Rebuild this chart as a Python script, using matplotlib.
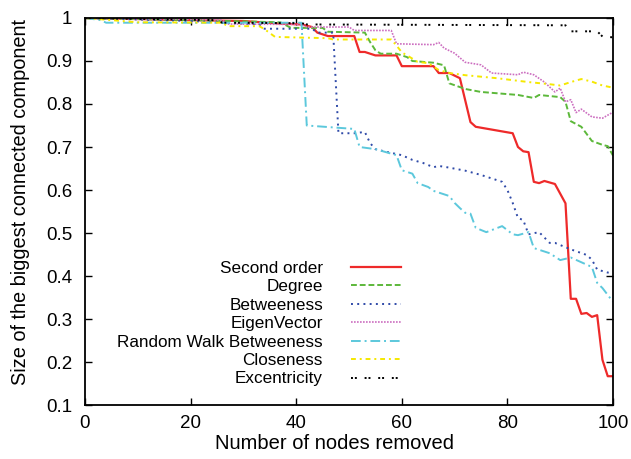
import matplotlib
matplotlib.use("Agg")
import matplotlib.pyplot as plt

plt.rcParams['font.family'] = ['Liberation Sans', 'DejaVu Sans']

# vertices (nodes removed, size of biggest component)
second_x = [0, 20, 30, 37, 41, 43, 44, 46, 51, 52, 53, 55, 59, 60, 66, 67, 69, 71, 73, 74,
            81, 82, 83, 84, 85, 86, 87, 89, 91, 92, 93, 94, 95, 96, 97, 98, 99, 100]
second_y = [1.0, 0.995, 0.993, 0.987, 0.985, 0.979, 0.966, 0.958, 0.958, 0.921, 0.921, 0.913,
            0.913, 0.888, 0.888, 0.872, 0.872, 0.860, 0.758, 0.747, 0.732, 0.700, 0.690, 0.688,
            0.619, 0.616, 0.621, 0.614, 0.569, 0.347, 0.347, 0.312, 0.314, 0.305, 0.309, 0.205,
            0.167, 0.167]

degree_x = [0, 20, 37, 39, 45, 46, 53, 54, 55, 56, 59, 61, 62, 66, 68, 69, 72, 75, 82, 85,
            86, 90, 91, 92, 94, 96, 98, 99, 100]
degree_y = [1.0, 0.995, 0.99, 0.977, 0.977, 0.968, 0.966, 0.944, 0.925, 0.917, 0.917, 0.909,
            0.900, 0.896, 0.890, 0.848, 0.835, 0.828, 0.821, 0.814, 0.821, 0.816, 0.805, 0.760,
            0.747, 0.714, 0.705, 0.702, 0.680]

betw_x = [0, 20, 33, 34, 43, 44, 47, 48, 51, 53, 54, 55, 57, 60, 62, 64, 66, 67, 69, 72, 75,
          79, 80, 81, 82, 83, 84, 86, 88, 89, 92, 95, 96, 97, 99, 100]
betw_y = [1.0, 0.993, 0.985, 0.975, 0.975, 0.966, 0.966, 0.732, 0.732, 0.735, 0.709, 0.695,
          0.689, 0.681, 0.670, 0.663, 0.653, 0.656, 0.652, 0.645, 0.635, 0.619, 0.600, 0.570,
          0.535, 0.530, 0.497, 0.502, 0.477, 0.477, 0.462, 0.449, 0.438, 0.415, 0.408, 0.410]

eigen_x = [0, 20, 26, 27, 41, 42, 50, 51, 58, 59, 66, 67, 68, 70, 72, 75, 77, 82, 83, 85, 87,
           89, 90, 91, 92, 93, 94, 96, 98, 100]
eigen_y = [1.0, 0.997, 0.995, 0.986, 0.985, 0.979, 0.979, 0.971, 0.971, 0.940, 0.938, 0.943,
           0.930, 0.918, 0.897, 0.891, 0.872, 0.868, 0.874, 0.868, 0.851, 0.828, 0.837, 0.805,
           0.810, 0.780, 0.788, 0.770, 0.767, 0.781]

rwb_x = [0, 3, 4, 41, 42, 51, 52, 55, 57, 59, 60, 62, 63, 65, 66, 69, 70, 71, 72, 73, 74, 76,
         79, 81, 82, 84, 85, 88, 90, 92, 96, 97, 98, 100]
rwb_y = [1.0, 0.995, 0.989, 0.989, 0.750, 0.742, 0.700, 0.695, 0.688, 0.681, 0.646, 0.638,
         0.616, 0.607, 0.598, 0.586, 0.570, 0.558, 0.547, 0.545, 0.512, 0.502, 0.516, 0.497,
         0.495, 0.502, 0.465, 0.453, 0.437, 0.443, 0.421, 0.384, 0.372, 0.340]

close_x = [0, 10, 26, 27, 33, 34, 35, 36, 46, 47, 58, 59, 60, 61, 63, 65, 67, 69, 72, 78, 84,
           88, 90, 92, 94, 96, 98, 100]
close_y = [1.0, 0.99, 0.989, 0.981, 0.981, 0.974, 0.965, 0.956, 0.953, 0.950, 0.950, 0.936,
           0.920, 0.913, 0.898, 0.895, 0.879, 0.872, 0.867, 0.860, 0.851, 0.846, 0.843, 0.851,
           0.858, 0.852, 0.843, 0.838]

excen_x = [0, 25, 26, 41, 42, 91, 92, 97, 98, 100]
excen_y = [1.0, 0.995, 0.989, 0.988, 0.985, 0.983, 0.969, 0.969, 0.957, 0.955]

fig = plt.figure(figsize=(6.31, 4.59), dpi=100)
ax = fig.add_axes([0.1347, 0.1176, 0.8368, 0.8432])

ax.plot(second_x, second_y, color='#ee2a2a', lw=1.6, label='Second order')
ax.plot(degree_x, degree_y, color='#5cb83a', lw=1.4, linestyle=(0, (3, 1.5)), label='Degree')
ax.plot(betw_x, betw_y, color='#2f4aa8', lw=1.4, linestyle=(0, (1, 2.2)), label='Betweeness')
ax.plot(eigen_x, eigen_y, color='#cc6ec0', lw=1.2, linestyle=(0, (1, 0.8)), label='EigenVector')
ax.plot(rwb_x, rwb_y, color='#5cc8dc', lw=1.4, linestyle=(0, (5, 2, 1, 2)),
        label='Random Walk Betweeness')
ax.plot(close_x, close_y, color='#f5e800', lw=1.4, linestyle=(0, (2.5, 2, 1, 2)),
        label='Closeness')
ax.plot(excen_x, excen_y, color='black', lw=1.4, linestyle=(0, (1, 1, 1, 4)),
        label='Excentricity')

ax.set_xlim(0, 100)
ax.set_ylim(0.1, 1)
ax.set_xticks([0, 20, 40, 60, 80, 100])
ax.set_yticks([0.1, 0.2, 0.3, 0.4, 0.5, 0.6, 0.7, 0.8, 0.9, 1.0])
ax.set_yticklabels(['0.1', '0.2', '0.3', '0.4', '0.5', '0.6', '0.7', '0.8', '0.9', '1'])
ax.tick_params(direction='in', length=5, width=1, top=True, right=True, labelsize=13.5)
ax.tick_params(axis='y', pad=9)
ax.tick_params(axis='x', pad=7)
for s in ax.spines.values():
    s.set_linewidth(1.3)

ax.set_xlabel('Number of nodes removed', fontsize=14.5)
ax.set_ylabel('Size of the biggest connected component', fontsize=14.4)
ax.xaxis.set_label_coords(0.473, -0.076)
ax.yaxis.set_label_coords(-0.104, 0.525)

ax.legend(loc='center', bbox_to_anchor=(0.33, 0.21), frameon=False, markerfirst=False,
          fontsize=12.3, handlelength=2.93, handletextpad=1.65, labelspacing=0.2,
          borderpad=0)

fig.savefig('out.png', dpi=100)
